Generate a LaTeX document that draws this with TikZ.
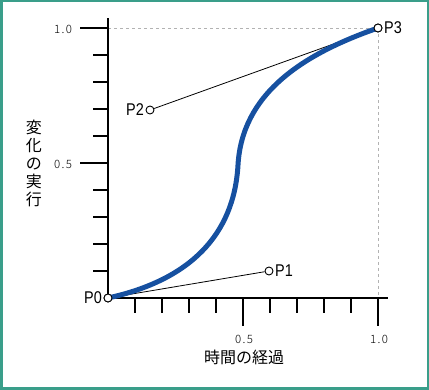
\documentclass[tikz,border=0pt]{standalone}
\usepackage{fontspec}
\setmainfont{Liberation Sans}
\newfontfamily\jpfont{Noto Sans CJK JP}
\newfontfamily\tickfont[LetterSpace=12]{Noto Sans CJK JP Light}
\newfontfamily\ptfont[FakeStretch=0.85]{Liberation Sans}
\begin{document}
\begin{tikzpicture}[x=1pt,y=-1pt,
  axisline/.style={line width=1.2pt,black},
  tickline/.style={line width=1.2pt,black},
  guide/.style={gray!60,dashed,line width=0.8pt},
  handle/.style={black,line width=0.8pt},
  ctrlpt/.style={circle,draw=black,fill=white,line width=0.9pt,minimum size=8pt,inner sep=0pt},
  ptlabel/.style={font=\ptfont\fontsize{17}{17}\selectfont,inner sep=1.5pt},
  ticklabel/.style={font=\tickfont\fontsize{11.5}{11.5}\selectfont,inner sep=0pt},
  axislabel/.style={font=\jpfont\fontsize{16}{18}\selectfont,inner sep=0pt,align=center},
  curve/.style={line width=5pt,color={rgb,255:red,22;green,80;blue,160}}]
\useasboundingbox (0,0) rectangle (429,390);
\draw[line width=2.5pt,color={rgb,255:red,58;green,158;blue,138}] (1.25,1.25) rectangle (427.75,388.75);
% guides
\coordinate (O) at (108,298);
\coordinate (Xtop) at (108,28);
\coordinate (Corner) at (378,28);
\coordinate (Xone) at (378,298);
\draw[guide] (Xtop) -- (Corner) -- (Xone);
% axes
\coordinate (Xend) at (388,298);
\coordinate (Yend) at (108,18);
\draw[axisline] (O) -- (Xend);
\draw[axisline] (O) -- (Yend);
% ticks
\foreach \k in {1,...,10}{
  \pgfmathsetmacro{\xx}{108+27*\k}
  \pgfmathsetmacro{\yy}{298-27*\k}
  \ifnum\k=5 \def\len{28}\else\ifnum\k=10 \def\len{28}\else\def\len{15}\fi\fi
  \draw[tickline] (\xx,298) -- (\xx,298+\len);
  \draw[tickline] (108,\yy) -- (108-\len,\yy);
}
% tick labels
\node[ticklabel] (ly1) at (63,29) {1.0};
\node[ticklabel] (ly5) at (63,164) {0.5};
\node[ticklabel] (lx5) at (244,339) {0.5};
\node[ticklabel] (lx1) at (379,339) {1.0};
% axis labels
\node[axislabel] (xlab) at (244,357) {時間の経過};
\node[axislabel] (ylab) at (34,163) {変\\化\\の\\実\\行};
% control points
\node[ctrlpt] (P0) at (108,298) {};
\node[ctrlpt] (P1) at (269,271) {};
\node[ctrlpt] (P2) at (150,110) {};
\node[ctrlpt] (P3) at (378,28) {};
\draw[handle] (P0) -- (P1);
\draw[handle] (P3) -- (P2);
% curve
\draw[curve] (P0.center) .. controls (190,280) and (234,235) .. (238,165)
  .. controls (242,95) and (300,55) .. (P3.center);
\node[ctrlpt] (P0b) at (P0) {};
\node[ctrlpt] (P3b) at (P3) {};
% labels
\node[ptlabel,anchor=east] (L0) at (P0.west) {P0};
\node[ptlabel,anchor=west] (L1) at (P1.east) {P1};
\node[ptlabel,anchor=east] (L2) at (P2.west) {P2};
\node[ptlabel,anchor=west] (L3) at (P3.east) {P3};
\end{tikzpicture}
\end{document}
